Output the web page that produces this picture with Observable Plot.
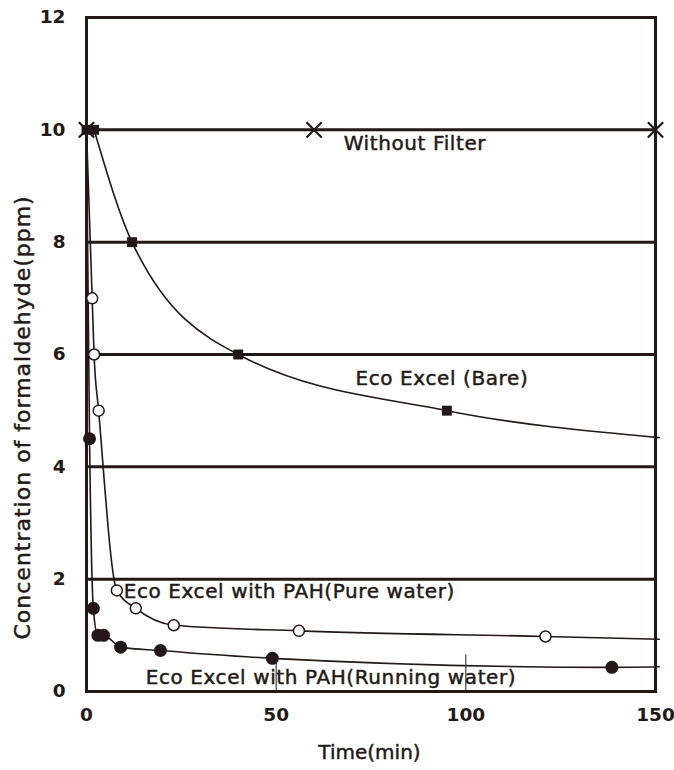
<!DOCTYPE html>
<html><head><meta charset="utf-8">
<script src="https://cdn.jsdelivr.net/npm/d3@7"></script>
<script src="https://cdn.jsdelivr.net/npm/@observablehq/plot@0.6"></script>
<style>body{margin:0;background:#fff} #chart svg{display:block}</style>
</head><body><div id="chart"></div>
<script>
// ---- data ----
const xTicks = [0, 50, 100, 150];
const yTicks = [0, 2, 4, 6, 8, 10, 12];
const gridY = [2, 4, 6, 8, 10];
const innerTicksX = [50, 100];

const withoutX = [0, 60, 150];
const withoutY = [10, 10, 10];

const bareX = [0, 2, 12, 40, 95];
const bareY = [10, 10, 8, 6, 5];
const bareLineX = [2, 12, 40, 95, 151];
const bareLineY = [10, 8, 6, 5, 4.52];

const pureX = [1.5, 2, 3.2, 8, 13, 23, 56, 121];
const pureY = [7.0, 6.0, 5.0, 1.8, 1.48, 1.18, 1.08, 0.98];
const pureLineX = [0, 1.5, 2, 3.2, 8, 13, 23, 56, 121, 151];
const pureLineY = [10, 7.0, 6.0, 5.0, 1.8, 1.48, 1.18, 1.08, 0.98, 0.93];

const runX = [0.8, 1.8, 3, 4.5, 9, 19.5, 49, 138.5];
const runY = [4.5, 1.48, 1.0, 1.0, 0.79, 0.73, 0.59, 0.43];
const runLineX = [0, 0.8, 1.8, 3, 4.5, 9, 19.5, 49, 138.5, 151];
const runLineY = [10, 4.5, 1.48, 1.0, 1.0, 0.79, 0.73, 0.59, 0.43, 0.44];

const labelText = ["Without Filter", "Eco Excel (Bare)", "Eco Excel with PAH(Pure water)", "Eco Excel with PAH(Running water)"];
const labelX = [67.8, 70.9, 9.8, 15.6];
const labelY = [9.76, 5.57, 1.78, 0.25];

const xTitle = "Time(min)";
const yTitle = "Concentration of formaldehyde(ppm)";

// ---- build tables ----
const zip = (xs, ys) => xs.map((x, i) => ({x, y: ys[i]}));
const ink = "#231815";
const labels = labelText.map((t, i) => ({t, x: labelX[i], y: labelY[i]}));
const font = "'DejaVu Sans', 'Liberation Sans', sans-serif";

const chart = Plot.plot({
  width: 674, height: 770,
  marginLeft: 86, marginRight: 19, marginTop: 17, marginBottom: 79,
  style: {fontFamily: font, fontSize: "18.5px", fontWeight: "bold", color: ink, background: "#fff", overflow: "visible"},
  x: {domain: [0, 150], ticks: xTicks, tickSize: 0, tickPadding: 16, label: null},
  y: {domain: [0, 12], ticks: yTicks, tickSize: 0, tickPadding: 21, label: null},
  marks: [
    Plot.ruleY(gridY, {stroke: ink, strokeWidth: 3}),
    Plot.ruleX(innerTicksX, {y1: 0, y2: 0.65, stroke: ink, strokeWidth: 1}),
    Plot.line(zip(withoutX, withoutY), {x: "x", y: "y", stroke: ink, strokeWidth: 1.5}),
    Plot.line(zip(bareLineX, bareLineY), {x: "x", y: "y", curve: "monotone-x", stroke: ink, strokeWidth: 1.6}),
    Plot.line(zip(pureLineX, pureLineY), {x: "x", y: "y", curve: "monotone-x", stroke: ink, strokeWidth: 1.6}),
    Plot.line(zip(runLineX, runLineY), {x: "x", y: "y", curve: "monotone-x", stroke: ink, strokeWidth: 1.6}),
    Plot.frame({stroke: ink, strokeWidth: 3}),
    Plot.dot(zip(pureX, pureY), {x: "x", y: "y", r: 5.5, fill: "#fff", stroke: ink, strokeWidth: 1.5}),
    Plot.dot(zip(runX, runY), {x: "x", y: "y", r: 6.5, fill: ink, stroke: "none"}),
    Plot.dot(zip(bareX, bareY), {x: "x", y: "y", symbol: "square", r: 5.6, fill: ink, stroke: "none"}),
    Plot.dot(zip(withoutX, withoutY), {x: "x", y: "y", symbol: "times", r: 7, stroke: ink, strokeWidth: 2.2}),
    Plot.text(labels, {x: "x", y: "y", text: "t", textAnchor: "start", lineAnchor: "middle", fontSize: 20, fontWeight: "normal", stroke: ink, strokeWidth: 0.45, fill: ink, style: "letter-spacing:0.6px"}),
    Plot.text([xTitle], {x: 74.6, frameAnchor: "bottom", lineAnchor: "middle", textAnchor: "middle", dy: 61, text: d => d, fontSize: 20, fontWeight: "normal", stroke: ink, strokeWidth: 0.45, fill: ink}),
    Plot.text([yTitle], {y: 4.88, frameAnchor: "left", textAnchor: "middle", lineAnchor: "middle", dx: -64, rotate: -90, text: d => d, fontSize: 22, fontWeight: "normal", stroke: ink, strokeWidth: 0.45, fill: ink})
  ]
});
// letter spacing on the annotation texts (style only)
d3.select(chart).selectAll("text").filter(function() {
  const t = this.textContent;
  return labelText.includes(t) || t === yTitle;
}).style("letter-spacing", function() { return this.textContent === yTitle ? "1px" : "0.6px"; });
document.getElementById("chart").appendChild(chart);
</script></body></html>
